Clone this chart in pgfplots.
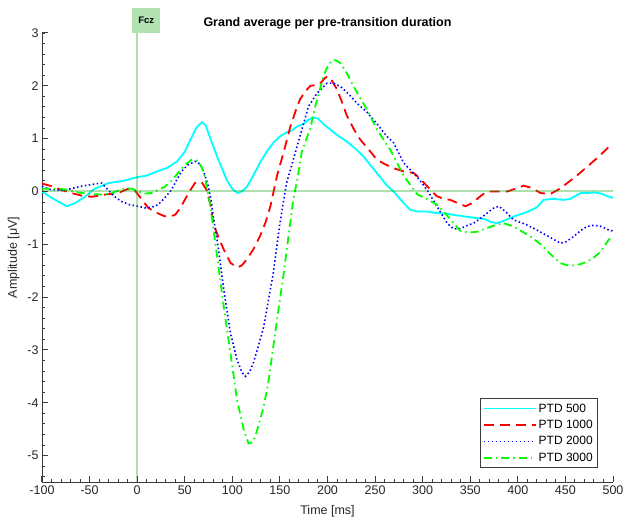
\documentclass[border=0pt]{standalone}
\usepackage{pgfplots}
\pgfplotsset{compat=1.18}
\usepackage{fontspec}
\setmainfont{Liberation Sans}
\definecolor{zl}{RGB}{0,160,0}
\definecolor{axc}{RGB}{60,60,60}
\definecolor{fczbox}{RGB}{178,226,178}
\definecolor{ccyan}{RGB}{0,255,255}
\definecolor{cred}{RGB}{255,0,0}
\definecolor{cblue}{RGB}{0,0,255}
\definecolor{cgreen}{RGB}{0,255,0}
\begin{document}
\begin{tikzpicture}
\useasboundingbox (-42pt,-39pt) rectangle (582pt,482pt);
\begin{axis}[
  at={(0pt,0pt)}, anchor=south west,
  scale only axis, width=571pt, height=449pt,
  xmin=-100, xmax=500, ymin=-5.5, ymax=3,
  axis x line*=bottom, axis y line*=left,
  axis line style={axc, line width=0.9pt},
  xtick={-100,-50,...,500}, ytick={-5,-4,...,3},
  minor x tick num=4, minor y tick num=4,
  tick align=inside,
  major tick length=6pt, minor tick length=3pt,
  major tick style={draw=axc, line width=1pt},
  minor tick style={draw=axc, line width=1pt},
  tick label style={font=\fontsize{12.5}{14}\selectfont, text=black!85},
  /pgf/number format/assume math mode=true,
  xlabel={Time [ms]}, ylabel={Amplitude [μV]},
  label style={font=\fontsize{12.5}{14}\selectfont, text=black!85},
  xlabel style={yshift=-4pt},
  ylabel style={yshift=1pt},
  title={Grand average per pre-transition duration},
  title style={font=\bfseries\fontsize{12.5}{14}\selectfont, yshift=-6pt},
  legend cell align=left,
  legend style={at={(0.974,0.031)}, anchor=south east, draw=axc, line width=0.8pt,
    font=\fontsize{12}{13}\selectfont, row sep=2.5pt, inner xsep=3pt, inner ysep=3pt},
  legend image code/.code={\draw[#1] (0pt,0pt) -- (52pt,0pt);},
]
\addplot[ccyan, line width=1.8pt] coordinates {
(-100,0.0) (-90,-0.12) (-80,-0.22) (-74,-0.28) (-65,-0.22) (-55,-0.1) (-45,0.05) (-30,0.16) (-15,0.2) (0,0.27) (10,0.3) (21,0.38) (32,0.45) (42,0.57) (50,0.75) (56,0.98) (62,1.2) (68,1.31) (72,1.25) (78,0.95) (84,0.66) (90,0.4) (94,0.22) (100,0.05) (105.5,-0.03) (110,0.0) (115,0.08) (122,0.3) (129,0.54) (136,0.75) (143,0.92) (150,1.04) (157,1.12) (163,1.16) (168,1.23) (175,1.28) (180,1.36) (185,1.40) (190,1.38) (196,1.27) (203,1.17) (210,1.07) (220,0.95) (230,0.8) (238,0.66) (245,0.5) (255,0.28) (262,0.12) (269.5,0.0) (278,-0.18) (287,-0.35) (295,-0.38) (305,-0.38) (315,-0.41) (325,-0.42) (335,-0.45) (343,-0.47) (355,-0.5) (365,-0.52) (372,-0.58) (378,-0.6) (386,-0.55) (396,-0.47) (405,-0.42) (413,-0.36) (420,-0.3) (427,-0.16) (437,-0.14) (448,-0.16) (455,-0.14) (466,-0.03) (473,-0.03) (480,-0.02) (488,-0.04) (494,-0.09) (500,-0.12)
};
\addlegendentry{PTD 500}
\addplot[cred, line width=1.8pt, dash pattern=on 10pt off 6pt] coordinates {
(-100,0.15) (-90,0.1) (-80,0.03) (-69,-0.03) (-58,-0.08) (-48,-0.1) (-40,-0.08) (-34,-0.06) (-20,-0.03) (-9.5,0.05) (-3,0.03) (1,-0.06) (6,-0.18) (11.6,-0.31) (20,-0.4) (29,-0.47) (35,-0.47) (40,-0.44) (45,-0.32) (50,-0.16) (55,0.0) (60.7,0.16) (64,0.18) (68,0.17) (73,0.03) (77,-0.25) (80,-0.6) (85,-0.85) (91,-1.1) (98,-1.35) (105,-1.44) (110,-1.4) (115,-1.29) (122,-1.1) (129,-0.85) (135,-0.58) (140,-0.28) (147,0.3) (154,0.75) (161,1.23) (166,1.5) (171,1.74) (177,1.9) (182,2.0) (191,2.02) (196,2.12) (199.5,2.18) (204,2.12) (210,1.93) (215,1.7) (220,1.45) (227,1.2) (234.5,0.98) (243,0.8) (252,0.6) (260,0.52) (269.5,0.44) (280,0.38) (290.5,0.35) (297,0.25) (304.6,0.1) (310,0.0) (315,-0.09) (322,-0.14) (329,-0.16) (337,-0.22) (345,-0.28) (352,-0.22) (360.7,-0.09) (366,-0.02) (371,0.0) (380,0.0) (389,0.0) (397,0.05) (406,0.11) (414,0.07) (424,-0.03) (434,-0.05) (443,0.04) (452,0.16) (462,0.3) (473,0.47) (485,0.66) (496,0.85) (500,0.9)
};
\addlegendentry{PTD 1000}
\addplot[cblue, line width=1.6pt, dash pattern=on 1.5pt off 2.5pt] coordinates {
(-100,0.1) (-92,0.04) (-80,0.02) (-70,0.05) (-58.5,0.1) (-45,0.14) (-37.5,0.16) (-30.5,0.03) (-25,-0.08) (-16.5,-0.19) (-8,-0.25) (1,-0.28) (8,-0.31) (15,-0.3) (22,-0.25) (29,-0.12) (36,0.03) (41,0.2) (46.6,0.38) (53,0.5) (60.7,0.57) (64,0.55) (67.6,0.47) (71,0.32) (74.7,0.1) (78,-0.2) (80,-0.47) (85.5,-1.1) (91,-1.86) (98,-2.68) (105,-3.19) (110,-3.42) (113.6,-3.5) (118,-3.42) (122,-3.25) (127,-2.95) (133,-2.56) (138,-2.05) (143,-1.55) (150,-0.6) (157,0.16) (164,0.6) (171,1.04) (180,1.61) (189,1.86) (195,1.97) (199.5,2.05) (206,2.05) (213.5,1.99) (222,1.85) (231,1.67) (241.5,1.5) (252,1.28) (262,1.05) (269.5,0.92) (280,0.54) (294,0.28) (304.6,0.03) (315,-0.28) (325.6,-0.6) (332.6,-0.71) (340,-0.7) (346,-0.65) (353.6,-0.6) (360,-0.52) (367.7,-0.41) (374,-0.32) (380,-0.28) (387,-0.38) (395.7,-0.54) (408,-0.62) (420,-0.73) (432,-0.85) (444.8,-0.98) (451,-0.95) (458.8,-0.85) (466,-0.74) (473,-0.66) (480,-0.64) (487,-0.66) (495.6,-0.73) (500,-0.75)
};
\addlegendentry{PTD 2000}
\addplot[cgreen, line width=1.8pt, dash pattern=on 8pt off 4pt on 1.5pt off 4pt] coordinates {
(-100,0.05) (-90,0.05) (-80,0.05) (-70,0.02) (-62,-0.02) (-48,-0.05) (-34,-0.06) (-25,-0.02) (-13,0.06) (-5,0.05) (1,0.0) (8,-0.04) (15,-0.03) (22,0.03) (29,0.09) (36,0.2) (43,0.35) (50,0.5) (57,0.6) (61,0.6) (64,0.57) (68,0.45) (71,0.28) (74,0.0) (77,-0.28) (84,-1.23) (91,-2.18) (98,-3.06) (105,-3.95) (112,-4.51) (117,-4.77) (121,-4.75) (124,-4.64) (128,-4.4) (133,-4.07) (138,-3.6) (143,-2.94) (148,-2.3) (154,-1.55) (159,-0.85) (164,-0.16) (168,0.2) (173,0.75) (182,1.2) (187,1.6) (192,1.93) (196,2.2) (199.5,2.34) (205,2.49) (209,2.48) (213.5,2.43) (220,2.25) (227.5,1.99) (234,1.78) (241.5,1.55) (252,1.17) (266,0.79) (280,0.3) (294,-0.05) (305,-0.15) (315,-0.25) (329,-0.52) (339,-0.74) (348,-0.78) (358,-0.76) (367.7,-0.69) (376,-0.64) (385,-0.6) (395,-0.66) (402.7,-0.74) (413,-0.85) (424,-1.0) (435,-1.2) (445,-1.36) (455,-1.41) (465,-1.38) (473,-1.33) (480,-1.25) (487,-1.14) (495.6,-0.91) (500,-0.85)
};
\addlegendentry{PTD 3000}
\draw[zl, opacity=0.32, line width=2pt] (axis cs:-100,0) -- (axis cs:500,0);
\draw[zl, opacity=0.32, line width=2pt] (axis cs:0,-5.5) -- (axis cs:0,3);
\pgfplotsinvokeforeach{-90,-80,...,490}{
  \draw[axc, line width=1pt] (axis cs:#1,-5.5) -- ++(0pt,3pt);
}
\pgfplotsinvokeforeach{-100,-50,...,500}{
  \draw[axc, line width=1pt] (axis cs:#1,-5.5) -- ++(0pt,6pt);
}
\pgfplotsinvokeforeach{-5.4,-5.2,...,2.9}{
  \draw[axc, line width=1pt] (axis cs:-100,#1) -- ++(3pt,0pt);
}
\pgfplotsinvokeforeach{-5,-4,...,3}{
  \draw[axc, line width=1pt] (axis cs:-100,#1) -- ++(6pt,0pt);
}
\end{axis}
\node[fill=fczbox, minimum width=28pt, minimum height=25pt, inner sep=0pt, anchor=south,
  font=\bfseries\fontsize{9.5}{10}\selectfont] at (104.2pt,449pt) {Fcz};
\end{tikzpicture}
\end{document}
